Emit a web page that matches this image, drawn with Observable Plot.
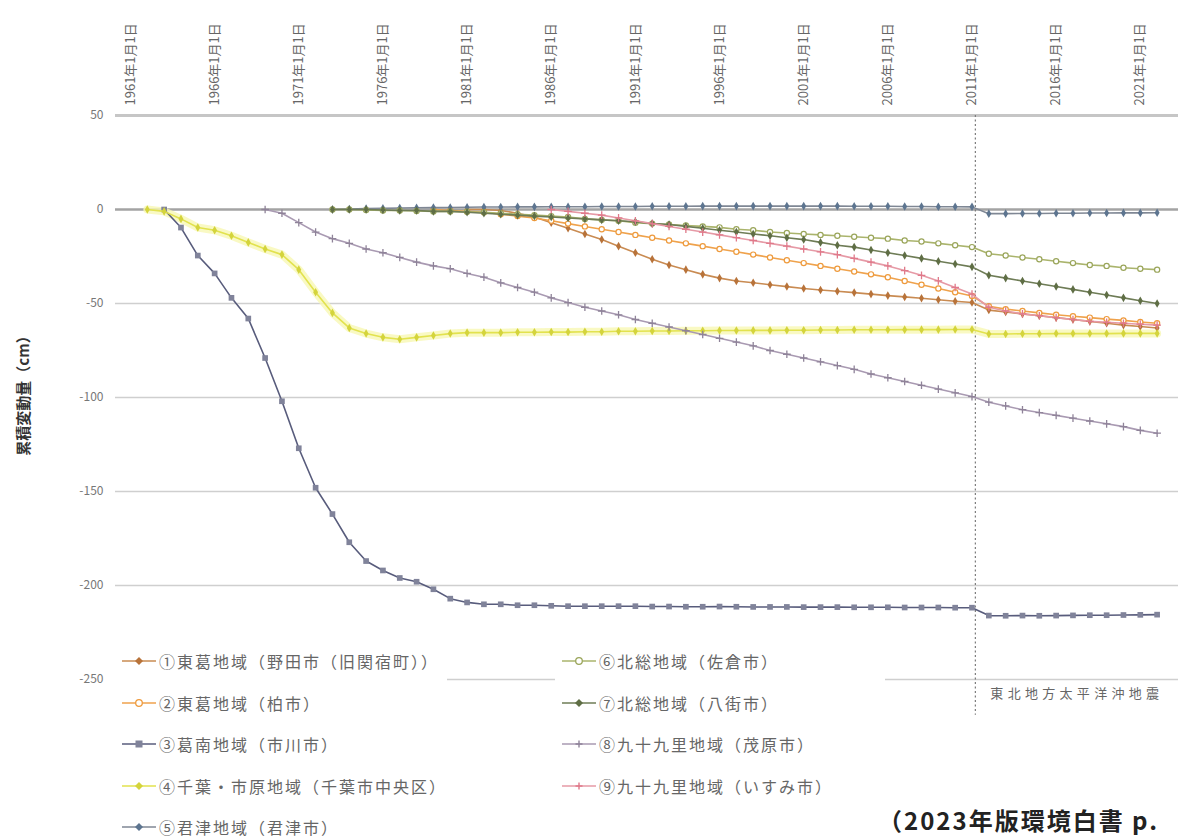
<!DOCTYPE html>
<html>
<head>
<meta charset="utf-8">
<script src="https://cdn.jsdelivr.net/npm/d3@7"></script>
<script src="https://cdn.jsdelivr.net/npm/@observablehq/plot@0.6"></script>
<style>
  html, body { margin: 0; padding: 0; background: #fff; overflow: hidden; }
  #wrap { position: relative; width: 1178px; height: 840px; overflow: hidden; font-family: "Noto Sans CJK JP", sans-serif; }
  #chart { position: absolute; left: 0; top: 0; }
  .legbg { position: absolute; background: #fff; }
  .legrow { position: absolute; height: 20px; line-height: 20px; display: flex; align-items: center; white-space: nowrap; font-size: 16px; color: #666; letter-spacing: 2px; }
  .legrow svg { margin-right: 3px; flex: none; }
  #ytitle { position: absolute; left: 22px; top: 392px; transform: translate(-50%, -50%) rotate(-90deg); white-space: nowrap; font-size: 15px; font-weight: bold; color: #333; }
  #caption { position: absolute; left: 878px; top: 807px; height: 26px; line-height: 26px; white-space: nowrap; font-size: 24px; font-weight: bold; color: #222; letter-spacing: 2px; }
</style>
</head>
<body>
<div id="wrap">
  <div id="chart"></div>
  <div id="ytitle"></div>
  <div id="legend"></div>
  <div id="caption"></div>
</div>
<script>
// ---- axis / annotation data ----
const tickYears = [1961, 1966, 1971, 1976, 1981, 1986, 1991, 1996, 2001, 2006, 2011, 2016, 2021];
const yTicks = [50, 0, -50, -100, -150, -200, -250];
const gridValues = [-50, -100, -150, -200, -250];
const quakeYear = 2011.2;
const quakeLineEnd = -269;
const quakeLabelValue = -257.5;
const quakeLabel = "東北地方太平洋沖地震";
const yTitle = "累積変動量（cm）";
const captionText = "（2023年版環境白書 p.";

// ---- series ----
const seriesNames = [
  "①東葛地域（野田市（旧関宿町））",
  "②東葛地域（柏市）",
  "③葛南地域（市川市）",
  "④千葉・市原地域（千葉市中央区）",
  "⑤君津地域（君津市）",
  "⑥北総地域（佐倉市）",
  "⑦北総地域（八街市）",
  "⑧九十九里地域（茂原市）",
  "⑨九十九里地域（いすみ市）"
];
const startYears = [1981, 1979, 1963, 1962, 1973, 1973, 1973, 1969, 1986];
const lineColors = ["#c98b52", "#efa24c", "#585c7c", "#e2e24e", "#7f8794", "#aab46c", "#6e7c56", "#a99ab2", "#e69aa6"];
const markerColors = ["#b8733a", "#ee9a3c", "#80839a", "#d4d43c", "#5d7590", "#9aa55a", "#5f6e45", "#8f8399", "#e0798a"];
const markerSymbols = ["diamond", "circle", "square", "diamond", "diamond", "circle", "diamond", "plus", "plus"];
const markerOpen = [false, true, false, false, false, true, false, false, false];

// values: one per year (1 Jan) starting at startYears[i]
const s1 = [0, 0, -0.5, -2, -4, -7, -10, -13, -16, -19.5,
  -23, -26.5, -29.5, -32, -34.5, -36.5, -38, -39, -40, -41,
  -42, -42.8, -43.5, -44.2, -45, -45.8, -46.5, -47.2, -48, -48.8,
  -49.5, -53.5, -54.5, -55.5, -56.5, -57.5, -58.5, -59.5, -60.5, -61.5,
  -62.2, -63];
const s2 = [0, -0.5, -1, -1.5, -2.5, -3.5, -4.5, -6, -7.5, -9,
  -10.5, -12, -13.5, -15, -16.5, -18, -19.5, -21, -22.5, -24,
  -25.5, -27, -28.5, -30, -31.5, -33, -34.5, -36, -38, -40,
  -42, -44, -46, -51.5, -53, -54, -55, -56, -56.8, -57.5,
  -58.3, -59, -59.8, -60.5];
const s3 = [0, -9.6, -24.5, -34, -47, -58, -79, -102, -127, -148,
  -162, -177, -187, -192, -196, -198, -202, -207, -209,
  -210, -210, -210.5, -210.5, -210.8, -211, -211, -211, -211,
  -211, -211.2, -211.2, -211.3, -211.3, -211.2, -211.3, -211.4, -211.4, -211.4,
  -211.5, -211.5, -211.5, -211.6, -211.6, -211.6, -211.7, -211.7, -211.7, -211.8, -211.8,
  -216, -216.1, -216, -216.1, -216, -215.9, -215.8, -215.8, -215.7, -215.6, -215.5];
const s4 = [0, -1, -5, -9.6, -11, -14, -17.5, -21, -24, -32,
  -44, -55, -63, -66, -68, -69, -68, -67, -66, -65.5,
  -65.5, -65.5, -65.3, -65.3, -65.2, -65.2, -65, -65, -64.8, -64.8,
  -64.6, -64.6, -64.5, -64.5, -64.4, -64.4, -64.3, -64.3, -64.2, -64.2,
  -64.1, -64.1, -64, -64, -64, -63.9, -63.9, -63.9, -63.8, -63.8,
  -66.2, -66.2, -66.1, -66.1, -66, -66, -66, -66, -65.9, -65.9, -65.9];
const s5 = [0, 0.3, 0.5, 0.6, 0.8, 0.9, 1, 1.1, 1.2, 1.3,
  1.3, 1.4, 1.4, 1.5, 1.5, 1.5, 1.6, 1.6, 1.6, 1.7,
  1.7, 1.7, 1.8, 1.8, 1.8, 1.8, 1.8, 1.8, 1.8, 1.8,
  1.8, 1.7, 1.7, 1.7, 1.6, 1.6, 1.5, 1.5, 1.4,
  -2.2, -2.2, -2.1, -2.1, -2, -2, -1.9, -1.9, -1.8, -1.8, -1.7];
const s6 = [0, 0, -0.3, -0.5, -0.5, -0.8, -1, -1, -1.2, -1.5,
  -2, -2.5, -3, -3.5, -4, -5, -5.5, -6, -7, -7.5,
  -8, -8.5, -9, -9.5, -10.5, -11, -12, -12.5, -13, -13.5,
  -14, -14.5, -15, -15.5, -16.5, -17, -18, -19, -20,
  -23.5, -24.5, -25.5, -26.5, -27.5, -28.5, -29.5, -30, -31, -31.5, -32];
const s7 = [0, 0, 0, -0.3, -0.5, -0.5, -1, -1, -1.5, -2,
  -2.5, -3, -3.5, -4, -4.5, -5, -5.5, -6, -6.5, -7.5,
  -8, -9, -10, -11, -12, -13, -14, -15, -16, -17.5,
  -19, -20, -21.5, -23, -24.5, -26, -27.5, -29, -30.5,
  -35, -36.5, -38, -39.5, -41, -42.5, -44, -45.5, -47, -48.5, -50];
const s8 = [0, -2, -7, -12, -15.5, -18, -21, -23, -25.5, -28,
  -30, -31.5, -34, -36, -39, -41.5, -44, -47, -49.5, -52,
  -54, -56, -58.5, -60.5, -62.5, -64.5, -66.5, -68.5, -70.5, -72.5,
  -75, -77, -79, -81, -83, -85, -87.5, -89.5, -91.5, -93.5,
  -95.5, -97.5, -99.5,
  -102.5, -104.5, -106.5, -108, -109.5, -111, -112.5, -114, -115.5, -117.5, -119];
const s9 = [0, -1, -2, -3, -4.5, -6, -7.5, -9, -10.5, -12,
  -13.5, -15, -16.5, -18, -19.5, -21, -22.5, -24, -26, -28,
  -30, -32.5, -35, -38, -41.5, -45,
  -52, -54, -55.5, -56.5, -57.5, -58.5, -59.5, -60, -60.5, -61, -61.5];

const seriesValues = [s1, s2, s3, s4, s5, s6, s7, s8, s9];
const rows = seriesValues.flatMap((arr, i) =>
  arr.map((v, k) => ({ idx: i, name: seriesNames[i], year: startYears[i] + k, value: v })));

// ---- marks ----
const marks = [
  Plot.ruleY(gridValues, { stroke: "#cfcfcf", strokeWidth: 1.5 }),
  Plot.ruleY([50], { stroke: "#c6c6c6", strokeWidth: 3 }),
  Plot.ruleY([0], { stroke: "#a3a3a3", strokeWidth: 2.5 }),
  Plot.ruleX([quakeYear], { y1: 50, y2: quakeLineEnd, stroke: "#7a7a7a", strokeWidth: 1.2, strokeDasharray: "2,2.5" }),
  Plot.text([quakeLabel], { x: quakeYear, y: quakeLabelValue, text: d => d, textAnchor: "start", dx: 15, fontSize: 13, fill: "#666" }),
  Plot.axisX(tickYears, { anchor: "top", tickSize: 0, tickPadding: 10, tickRotate: -90, tickFormat: d => `${d}年1月1日`, fontSize: 13, fill: "#666", label: null }),
  Plot.axisY(yTicks, { anchor: "left", tickSize: 0, tickPadding: 12, tickFormat: d => String(d), fontSize: 12, fill: "#777", label: null })
];

// yellow glow under series ④
marks.push(Plot.line(rows.filter(d => d.idx === 3), { x: "year", y: "value", stroke: "#f7f7b4", strokeWidth: 8, strokeOpacity: 0.8 }));

seriesValues.forEach((_, i) => {
  const data = rows.filter(d => d.idx === i);
  marks.push(Plot.line(data, { x: "year", y: "value", stroke: lineColors[i], strokeWidth: 1.6 }));
  const sym = markerSymbols[i];
  const isStrokeSym = sym === "plus";
  const opts = { x: "year", y: "value", symbol: sym, r: sym === "square" ? 3.2 : 2.6 };
  if (isStrokeSym) { opts.stroke = markerColors[i]; opts.strokeWidth = 1.3; opts.fill = "none"; }
  else if (markerOpen[i]) { opts.stroke = markerColors[i]; opts.strokeWidth = 1.2; opts.fill = "#fff"; }
  else { opts.fill = markerColors[i]; opts.stroke = "none"; }
  marks.push(Plot.dot(data, opts));
});

const chart = Plot.plot({
  width: 1178,
  height: 840,
  marginTop: 115,
  marginBottom: 161,
  marginLeft: 115,
  marginRight: 0,
  x: { type: "linear", domain: [1960.11, 2023.27] },
  y: { domain: [-250, 50] },
  style: { fontFamily: '"Noto Sans CJK JP", sans-serif', background: "#fff", overflow: "visible" },
  marks
});
document.getElementById("chart").appendChild(chart);
d3.select(chart).selectAll("text").filter(function () { return this.textContent === quakeLabel; })
  .attr("letter-spacing", "4.3px").style("letter-spacing", "4.3px");

// ---- text elements ----
document.getElementById("ytitle").textContent = yTitle;
document.getElementById("caption").textContent = captionText;

// ---- legend ----
function markerSvg(i) {
  const c = markerColors[i], lc = lineColors[i];
  let shape = "";
  const cx = 17, cy = 8;
  switch (markerSymbols[i]) {
    case "diamond": shape = `<path d="M${cx},${cy - 4}L${cx + 4},${cy}L${cx},${cy + 4}L${cx - 4},${cy}Z" fill="${c}"/>`; break;
    case "circle": shape = `<circle cx="${cx}" cy="${cy}" r="3.3" fill="#fff" stroke="${c}" stroke-width="1.3"/>`; break;
    case "square": shape = `<rect x="${cx - 3.5}" y="${cy - 3.5}" width="7" height="7" fill="${c}"/>`; break;
    case "plus": shape = `<path d="M${cx - 3.5},${cy}H${cx + 3.5}M${cx},${cy - 3.5}V${cy + 3.5}" stroke="${c}" stroke-width="1.4"/>`; break;
  }
  return `<svg width="34" height="16"><line x1="0" y1="${cy}" x2="34" y2="${cy}" stroke="${lc}" stroke-width="1.6"/>${shape}</svg>`;
}
const legend = document.getElementById("legend");
const legendCols = [[0, 1, 2, 3, 4], [5, 6, 7, 8]];
const legendColLeft = [122, 562];
const legendBg = [[115, 332], [555, 330]];
legendBg.forEach(([l, w]) => {
  const bg = document.createElement("div");
  bg.className = "legbg";
  bg.style.left = l + "px"; bg.style.top = "642px"; bg.style.width = w + "px"; bg.style.height = "198px";
  legend.appendChild(bg);
});
legendCols.forEach((col, ci) => {
  col.forEach((i, r) => {
    const row = document.createElement("div");
    row.className = "legrow";
    row.style.left = legendColLeft[ci] + "px";
    row.style.top = (661 + r * 41.5 - 10) + "px";
    row.innerHTML = markerSvg(i) + `<span>${seriesNames[i]}</span>`;
    legend.appendChild(row);
  });
});
</script>
</body>
</html>
